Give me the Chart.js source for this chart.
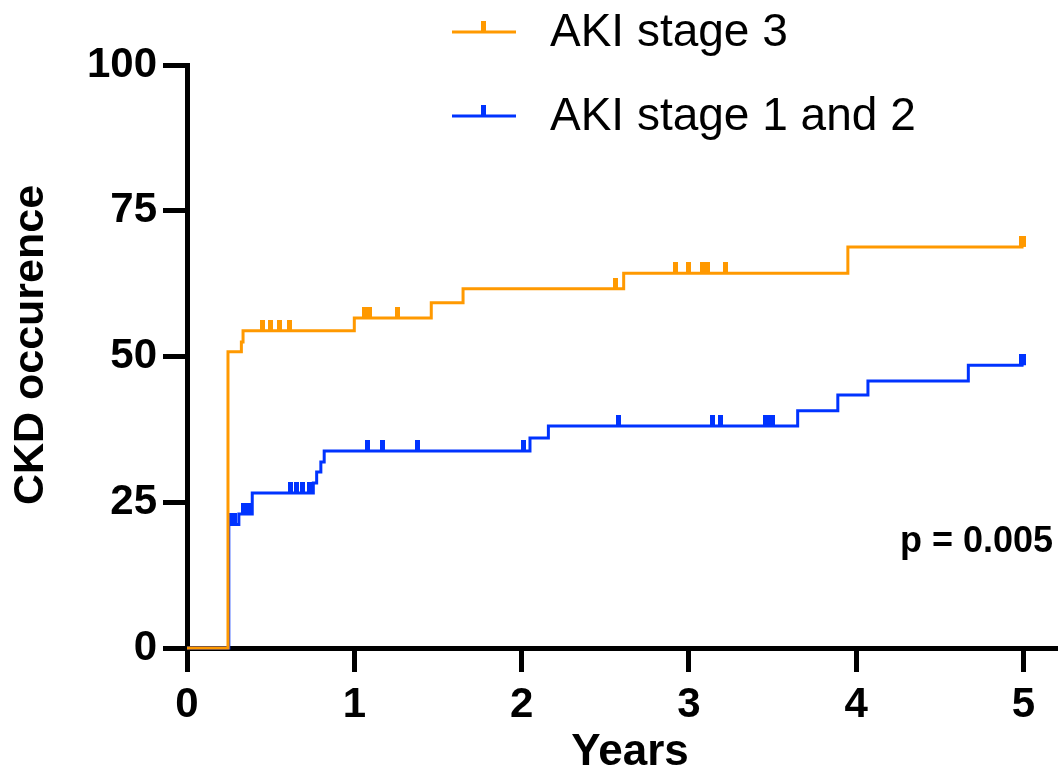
<!DOCTYPE html>
<html><head><meta charset="utf-8">
<script src="https://cdn.jsdelivr.net/npm/chart.js@4.4.1/dist/chart.umd.min.js"></script>
<style>html,body{margin:0;padding:0;background:#fff;}#wrap{width:1062px;height:777px;}</style>
</head><body><div id="wrap"><canvas id="c" width="1062" height="777"></canvas></div>
<script>
const seriesNames = ['AKI stage 3', 'AKI stage 1 and 2'];
const stage3Times = [0, 0.245, 0.325, 0.335, 1.0, 1.46, 1.65, 2.61, 3.95, 5.0];
const stage3Values = [0, 50.8, 52.5, 54.4, 56.6, 59.2, 61.6, 64.3, 68.8, 68.8];
const stage3Censored = [0.45, 0.50, 0.55, 0.61, 1.06, 1.09, 1.26, 2.56, 2.92, 3.0, 3.08, 3.11, 3.22, 4.99, 5.0];
const stage12Times = [0, 0.25, 0.31, 0.39, 0.755, 0.775, 0.80, 0.82, 2.05, 2.16, 3.65, 3.89, 4.07, 4.67, 5.0];
const stage12Values = [0, 21.2, 23.0, 26.6, 28.3, 30.2, 31.9, 33.8, 36.0, 38.1, 40.7, 43.4, 45.8, 48.5, 48.5];
const stage12Censored = [0.255, 0.27, 0.285, 0.34, 0.355, 0.37, 0.62, 0.655, 0.69, 0.73, 1.08, 1.17, 1.38, 2.01, 2.58, 3.14, 3.19, 3.46, 3.48, 3.50, 4.99, 5.0];
const xTicks = [0, 1, 2, 3, 4, 5];
const yTicks = [0, 25, 50, 75, 100];
const xTitle = 'Years';
const yTitle = 'CKD occurence';
const pText = 'p = 0.005';

const ORANGE = '#FF9900';
const BLUE = '#0033FF';
const FONT = '"Liberation Sans", Arial, Helvetica, sans-serif';

function stepAt(times, vals, t) {
  let v = vals[0];
  for (let i = 0; i < times.length; i++) { if (times[i] <= t) v = vals[i]; }
  return v;
}
function tickMark(color) {
  const c = document.createElement('canvas');
  c.width = 5; c.height = 22;
  const g = c.getContext('2d');
  g.fillStyle = color;
  g.fillRect(0, 0, 5, 11);
  return c;
}
function curve(times, vals) { return times.map((t, i) => ({ x: t, y: vals[i] })); }
function censors(ct, times, vals) { return ct.map(t => ({ x: t, y: stepAt(times, vals, t) })); }

const annotationPlugin = {
  id: 'customLegend',
  afterDraw(chart) {
    const g = chart.ctx;
    const items = [
      { label: seriesNames[0], color: ORANGE, y: 32 },
      { label: seriesNames[1], color: BLUE, y: 116 }
    ];
    g.save();
    items.forEach(it => {
      g.strokeStyle = it.color; g.lineWidth = 3;
      g.beginPath(); g.moveTo(452, it.y); g.lineTo(516, it.y); g.stroke();
      g.fillStyle = it.color; g.fillRect(481, it.y - 11, 5, 11);
      g.fillStyle = '#000'; g.font = '46px ' + FONT;
      g.textBaseline = 'middle'; g.textAlign = 'left';
      g.fillText(it.label, 550, it.y + 1);
    });
    g.fillStyle = '#000';
    g.font = 'bold 36px ' + FONT;
    g.textAlign = 'right'; g.textBaseline = 'middle';
    g.fillText(pText, 1053, 542);
    // axis titles
    g.font = 'bold 44px ' + FONT;
    g.textAlign = 'center'; g.textBaseline = 'middle';
    g.fillText(xTitle, 630, 753);
    g.save();
    g.translate(31, 345);
    g.rotate(-Math.PI / 2);
    g.font = 'bold 43px ' + FONT;
    g.fillText(yTitle, 0, 0);
    g.restore();
    g.restore();
  }
};

new Chart(document.getElementById('c'), {
  type: 'scatter',
  data: {
    datasets: [
      { label: seriesNames[0], data: curve(stage3Times, stage3Values), showLine: true, stepped: true,
        borderColor: ORANGE, borderWidth: 3, pointRadius: 0, clip: false, fill: false },
      { label: seriesNames[1], data: curve(stage12Times, stage12Values), showLine: true, stepped: true,
        borderColor: BLUE, borderWidth: 3, pointRadius: 0, clip: false, fill: false },
      { label: seriesNames[0] + ' censored', data: censors(stage3Censored, stage3Times, stage3Values), showLine: false,
        pointStyle: tickMark(ORANGE), pointRadius: 3, clip: false },
      { label: seriesNames[1] + ' censored', data: censors(stage12Censored, stage12Times, stage12Values), showLine: false,
        pointStyle: tickMark(BLUE), pointRadius: 3, clip: false }
    ]
  },
  options: {
    responsive: false, animation: false, devicePixelRatio: 1,
    layout: { padding: { left: 0, top: 65, right: 2, bottom: 0 } },
    plugins: { legend: { display: false }, tooltip: { enabled: false } },
    scales: {
      x: {
        type: 'linear', min: 0, max: 5.2,
        afterBuildTicks: s => { s.ticks = xTicks.map(v => ({ value: v })); },
        afterFit: s => { s.height = 129; },
        grid: { drawOnChartArea: false, drawTicks: true, tickLength: 24, tickWidth: 5, tickColor: '#000' },
        border: { display: true, width: 5, color: '#000' },
        ticks: { color: '#000', font: { family: FONT, size: 42, weight: 'bold' }, padding: 8, maxRotation: 0, autoSkip: false },
        title: { display: false }
      },
      y: {
        type: 'linear', min: 0, max: 100,
        afterBuildTicks: s => { s.ticks = yTicks.map(v => ({ value: v })); },
        afterFit: s => { s.width = 187; },
        grid: { drawOnChartArea: false, drawTicks: true, tickLength: 24, tickWidth: 5, tickColor: '#000' },
        border: { display: true, width: 5, color: '#000' },
        ticks: { color: '#000', font: { family: FONT, size: 42, weight: 'bold' }, padding: 6, autoSkip: false },
        title: { display: false }
      }
    }
  },
  plugins: [annotationPlugin]
});
</script></body></html>
